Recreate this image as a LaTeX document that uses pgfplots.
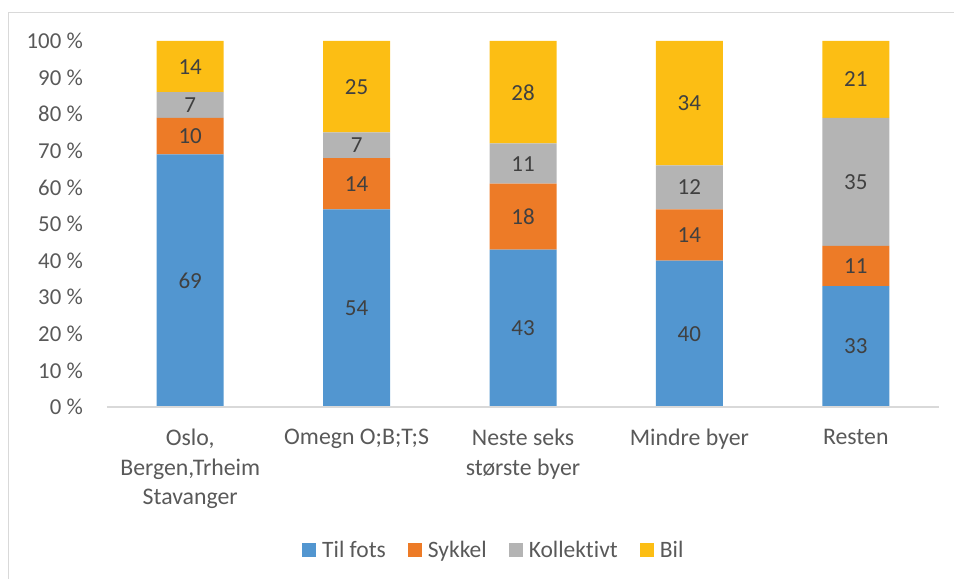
\documentclass[border=0pt]{standalone}
\usepackage{pgfplots}
\pgfplotsset{compat=1.18}
\usepackage{pgfplotstable}
\usepackage{fontspec}
\setmainfont{Carlito}[Ligatures=NoCommon]
\definecolor{cBlue}{HTML}{5296D0}
\definecolor{cOrange}{HTML}{ED7B27}
\definecolor{cGray}{HTML}{B4B4B4}
\definecolor{cGold}{HTML}{FCBE14}
\definecolor{txt}{HTML}{595959}
\definecolor{lbl}{HTML}{404040}
\definecolor{axl}{HTML}{D9D9D9}
\pgfplotstableread{
x til sykkel koll bil
0 69 10 7 14
1 54 14 7 25
2 43 18 11 28
3 40 14 12 34
4 33 11 35 21
}\data
\begin{document}
\begin{tikzpicture}
\useasboundingbox (-107bp,-172bp) rectangle (847bp,407bp);
\draw[axl, line width=0.75bp] (-99bp,-172bp) -- (-99bp,395bp) -- (847bp,395bp);
\begin{axis}[
  at={(0,0)}, anchor=south west,
  scale only axis, width=832bp, height=366bp,
  ybar stacked, bar width=67bp,
  xmin=-0.5, xmax=4.5, ymin=0, ymax=100,
  axis line style={draw=none},
  major tick length=0pt,
  /pgf/number format/assume math mode=true,
  xtick={0,1,2,3,4},
  xticklabels={{Oslo,\\Bergen,Trheim\\Stavanger},{Omegn O;B;T;S},{Neste seks\\største byer},{Mindre byer},{Resten}},
  xticklabel style={align=center, inner sep=0pt, yshift=-22bp, font=\fontsize{23.8bp}{29.5bp}\selectfont, text=txt},
  ytick={0,10,20,30,40,50,60,70,80,90,100},
  yticklabels={0 \%,10 \%,20 \%,30 \%,40 \%,50 \%,60 \%,70 \%,80 \%,90 \%,100 \%},
  yticklabel style={inner sep=0pt, xshift=-24bp, font=\fontsize{22.8bp}{27bp}\selectfont, text=txt},
  nodes near coords, point meta=explicit,
  every node near coord/.append style={anchor=center, inner sep=0pt, font=\fontsize{23bp}{27bp}\selectfont, text=lbl},
  legend style={draw=none, fill=none, inner sep=0pt, legend columns=4,
    at={(axis description cs:0.2344,-0.3907)}, anchor=west,
    font=\fontsize{23.5bp}{27bp}\selectfont, text=txt,
    nodes={inner sep=0pt},
    /tikz/every odd column/.append style={column sep=6bp},
    /tikz/every even column/.append style={column sep=22bp}},
  legend image code/.code={\fill[#1] (0bp,-7bp) rectangle (14bp,7bp);},
]
\draw[axl, line width=1.5bp] (axis cs:-0.5,0) -- (axis cs:4.5,0);
\addplot[fill=cBlue, draw=none] table[x=x, y=til, meta=til] {\data};
\addplot[fill=cOrange, draw=none] table[x=x, y=sykkel, meta=sykkel] {\data};
\addplot[fill=cGray, draw=none] table[x=x, y=koll, meta=koll] {\data};
\addplot[fill=cGold, draw=none] table[x=x, y=bil, meta=bil] {\data};
\legend{Til fots, Sykkel, Kollektivt, Bil}
\end{axis}
\end{tikzpicture}
\end{document}
